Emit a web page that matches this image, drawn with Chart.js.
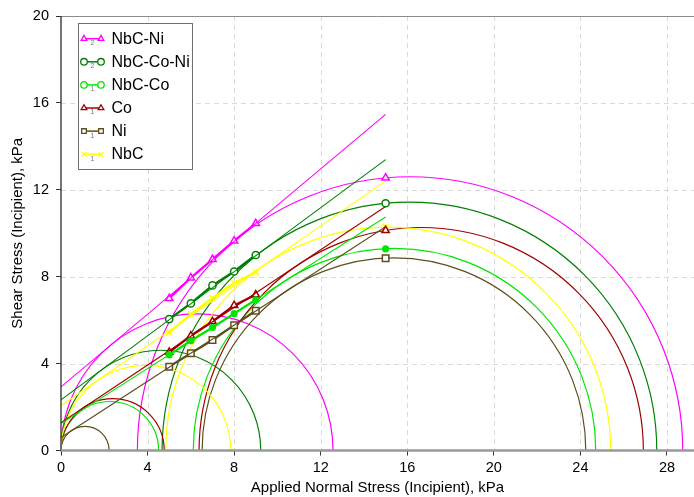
<!DOCTYPE html>
<html>
<head>
<meta charset="utf-8">
<title>Yield loci and Mohr circles</title>
<script src="https://cdn.jsdelivr.net/npm/chart.js@4.4.0/dist/chart.umd.min.js"></script>
<style>
  html, body { margin: 0; padding: 0; background: #fff; }
  #chart { display: block; }
</style>
</head>
<body>
<canvas id="chart" width="694" height="497"></canvas>
<script>
// normal stress of the shear points and of the preshear point, kPa
const sigmaShear = [5, 6, 7, 8, 9];
const sigmaPreshear = 15;

const materials = ['NbC-Ni', 'NbC-Co-Ni', 'NbC-Co', 'Co', 'Ni', 'NbC'];

// incipient shear stress at each sigmaShear, kPa
const tauNbCNi   = [7.0, 7.95, 8.8, 9.65, 10.45];
const tauNbCCoNi = [6.05, 6.77, 7.6, 8.24, 9.0];
const tauNbCCo   = [4.4, 5.05, 5.66, 6.3, 6.94];
const tauCo      = [4.53, 5.28, 5.94, 6.68, 7.17];
const tauNi      = [3.86, 4.48, 5.09, 5.77, 6.43];
const tauNbC     = [5.43, 6.28, 7.02, 7.71, 8.2];

// preshear shear stress
const tauPreshear = [12.55, 11.38, 9.28, 10.13, 8.85, 10.3];

// yield locus: tau at sigma = 0 and at sigma = 15
const locusAt0  = [2.93, 2.33, 1.24, 1.28, 0.6, 2.06];
const locusAt15 = [15.47, 13.39, 10.75, 11.23, 10.3, 12.41];

// unconfined yield strength (small Mohr circle from 0 to sigmaC)
const sigmaC = [12.57, 9.23, 4.51, 4.77, 2.22, 7.84];
// consolidation Mohr circle, minor and major principal stress
const sigma2 = [3.53, 4.67, 6.11, 6.38, 6.52, 4.84];
const sigma1 = [28.73, 27.53, 24.71, 26.91, 24.25, 25.40];

const xTicks = [0, 4, 8, 12, 16, 20, 24, 28];
const yTicks = [0, 4, 8, 12, 16, 20];

const tauSets = [tauNbCNi, tauNbCCoNi, tauNbCCo, tauCo, tauNi, tauNbC];
const colors = ['#ff00ff', '#008000', '#00e600', '#a00000', '#5e4f1e', '#ffff00'];
const markers = ['triangle', 'circle', 'circle', 'triangle', 'rect', 'crossRot'];
const markerSize = [4.2, 3.6, 2.8, 4.2, 4.6, 4];
const markerFill = ['#fff', '#fff', '#00e600', '#fff', '#fff', '#ffff00'];
const legendFill = ['#fff', '#fff', '#fff', '#fff', '#fff', '#ffff00'];
const legendDigit = ['2', '2', '1', '1', '1', '1'];

const FONT = 'Arial, "Liberation Sans", sans-serif';

let datasets = [];
materials.forEach((name, i) => {
    // yield locus
    datasets.push({
        label: name + ' locus',
        data: [{ x: 0, y: locusAt0[i] }, { x: sigmaPreshear, y: locusAt15[i] }],
        showLine: true,
        borderColor: colors[i],
        borderWidth: 1.1,
        pointRadius: 0
    });
    // shear points
    datasets.push({
        label: name,
        data: sigmaShear.map((s, k) => ({ x: s, y: tauSets[i][k] })),
        showLine: true,
        borderColor: colors[i],
        borderWidth: 2.3,
        pointStyle: markers[i],
        pointRadius: markerSize[i],
        pointBorderWidth: 1.5,
        pointBorderColor: colors[i],
        pointBackgroundColor: markerFill[i]
    });
    // preshear point
    datasets.push({
        label: name + ' preshear',
        data: [{ x: sigmaPreshear, y: tauPreshear[i] }],
        showLine: false,
        pointStyle: markers[i],
        pointRadius: markerSize[i],
        pointBorderWidth: 1.5,
        pointBorderColor: colors[i],
        pointBackgroundColor: markerFill[i]
    });
});

// white page, dashed grid and Mohr circles under the data
const backdrop = {
    id: 'backdrop',
    beforeDraw(chart) {
        const ctx = chart.ctx;
        ctx.save();
        ctx.fillStyle = '#fff';
        ctx.fillRect(0, 0, chart.width, chart.height);
        ctx.restore();
    },
    beforeDatasetsDraw(chart) {
        const { ctx, chartArea: a, scales: { x, y } } = chart;
        ctx.save();
        ctx.lineWidth = 1;
        ctx.strokeStyle = '#d9d9d9';
        ctx.setLineDash([5, 4]);
        xTicks.slice(1).forEach(v => {
            const px = Math.round(x.getPixelForValue(v)) + 0.5;
            ctx.beginPath(); ctx.moveTo(px, a.top); ctx.lineTo(px, a.bottom); ctx.stroke();
        });
        yTicks.slice(1, -1).forEach(v => {
            const py = Math.round(y.getPixelForValue(v)) + 0.5;
            ctx.beginPath(); ctx.moveTo(a.left, py); ctx.lineTo(a.right, py); ctx.stroke();
        });
        ctx.setLineDash([]);
        ctx.strokeStyle = '#8c8c8c';
        const top = Math.round(y.getPixelForValue(20)) + 0.5;
        ctx.beginPath(); ctx.moveTo(a.left, top); ctx.lineTo(a.right, top); ctx.stroke();

        // Mohr circles
        ctx.beginPath();
        ctx.rect(a.left, a.top - 1, a.right - a.left, a.bottom - a.top + 1);
        ctx.clip();
        ctx.lineWidth = 1.2;
        const y0 = y.getPixelForValue(0);
        const ky = y0 - y.getPixelForValue(1);
        const kx = x.getPixelForValue(1) - x.getPixelForValue(0);
        const half = (lo, hi, col) => {
            const c = x.getPixelForValue((lo + hi) / 2);
            const r = (hi - lo) / 2;
            ctx.strokeStyle = col;
            ctx.beginPath();
            ctx.ellipse(c, y0, r * kx, r * ky, 0, Math.PI, 2 * Math.PI);
            ctx.stroke();
        };
        materials.forEach((n, i) => {
            half(0, sigmaC[i], colors[i]);
            half(sigma2[i], sigma1[i], colors[i]);
        });
        ctx.restore();
    },
    afterDatasetsDraw(chart) {
        const { ctx, chartArea: a } = chart;
        ctx.save();
        // y axis
        ctx.strokeStyle = '#3a3a3a';
        ctx.lineWidth = 1.4;
        ctx.beginPath(); ctx.moveTo(a.left, a.top); ctx.lineTo(a.left, a.bottom + 1); ctx.stroke();
        // x axis
        ctx.strokeStyle = '#999';
        ctx.lineWidth = 2.6;
        ctx.beginPath(); ctx.moveTo(a.left, a.bottom); ctx.lineTo(a.right, a.bottom); ctx.stroke();
        ctx.restore();
    }
};

// legend with a two-marker sample and subscript digit
const seriesLegend = {
    id: 'seriesLegend',
    afterDraw(chart) {
        const ctx = chart.ctx;
        const bx = 78.5, by = 23.5, bw = 114, bh = 146;
        ctx.save();
        ctx.fillStyle = '#fff';
        ctx.fillRect(bx, by, bw, bh);
        ctx.strokeStyle = '#6e6e6e';
        ctx.lineWidth = 1;
        ctx.strokeRect(bx, by, bw, bh);
        materials.forEach((name, i) => {
            const yc = 38.7 + i * 23.1;
            ctx.strokeStyle = colors[i];
            ctx.lineWidth = 1.5;
            ctx.beginPath(); ctx.moveTo(84, yc); ctx.lineTo(101, yc); ctx.stroke();
            [84, 101].forEach(px => {
                ctx.fillStyle = legendFill[i];
                ctx.strokeStyle = colors[i];
                ctx.lineWidth = 1.3;
                Chart.helpers.drawPoint(ctx, {
                    pointStyle: markers[i],
                    radius: Math.min(markerSize[i] + 0.4, 3.3),
                    borderWidth: 1.3,
                    rotation: 0
                }, px, yc);
            });
            ctx.fillStyle = '#777';
            ctx.font = '7px ' + FONT;
            ctx.textAlign = 'center';
            ctx.textBaseline = 'middle';
            ctx.fillText(legendDigit[i], 92.5, yc + 4.5);
            ctx.fillStyle = '#000';
            ctx.font = '16px ' + FONT;
            ctx.textAlign = 'left';
            ctx.fillText(name, 111.5, yc + 0.5);
        });
        ctx.restore();
    }
};

new Chart(document.getElementById('chart'), {
    type: 'scatter',
    data: { datasets: datasets },
    options: {
        responsive: false,
        animation: false,
        devicePixelRatio: 1,
        layout: { autoPadding: false, padding: { top: 16, right: 0, left: 0, bottom: 0 } },
        plugins: {
            legend: { display: false },
            tooltip: { enabled: false }
        },
        scales: {
            x: {
                type: 'linear',
                min: 0,
                max: 29.25,
                afterFit: s => { s.height = 46.5; },
                afterBuildTicks: s => { s.ticks = xTicks.map(v => ({ value: v })); },
                ticks: { color: '#000', font: { family: FONT, size: 14.5 }, padding: 4, maxRotation: 0 },
                grid: { drawOnChartArea: false, drawTicks: true, tickLength: 5, tickColor: '#333', tickWidth: 1 },
                border: { display: false },
                title: {
                    display: true,
                    text: 'Applied Normal Stress (Incipient), kPa',
                    color: '#000',
                    font: { family: FONT, size: 15 },
                    padding: { top: 0, bottom: 0 }
                }
            },
            y: {
                type: 'linear',
                min: 0,
                max: 20,
                afterFit: s => { s.width = 61; },
                afterBuildTicks: s => { s.ticks = yTicks.map(v => ({ value: v })); },
                ticks: { color: '#000', font: { family: FONT, size: 14.5 }, padding: 7 },
                grid: { drawOnChartArea: false, drawTicks: true, tickLength: 5, tickColor: '#333', tickWidth: 1 },
                border: { display: false },
                title: {
                    display: true,
                    text: 'Shear Stress (Incipient), kPa',
                    color: '#000',
                    font: { family: FONT, size: 15 },
                    padding: { top: 9, bottom: 0 }
                }
            }
        }
    },
    plugins: [backdrop, seriesLegend]
});
</script>
</body>
</html>
